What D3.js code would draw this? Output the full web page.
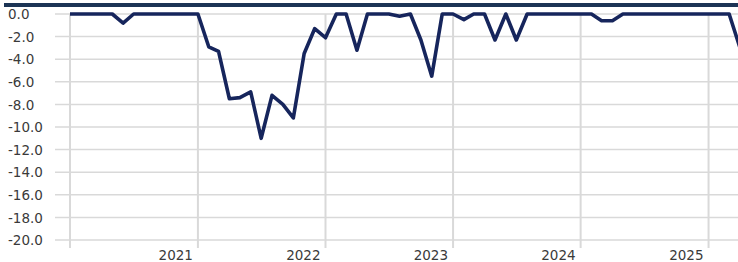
<!DOCTYPE html>
<html>
<head>
<meta charset="utf-8">
<script src="https://cdn.jsdelivr.net/npm/d3@7"></script>
<style>
    body { margin: 0; background: #fff; }
    text { font-family: "DejaVu Sans", sans-serif; fill: #3a3a3a; }
</style>
</head>
<body>
<div id="plot"></div>
<script>
'use strict';

// monthly values, Jan 2020 .. Apr 2025
const values = [
    0, 0, 0, 0, 0, -0.8, 0, 0, 0, 0, 0, 0,
    0, -2.9, -3.3, -7.5, -7.4, -6.9, -11.0, -7.2, -8.0, -9.2, -3.5, -1.3,
    -2.1, 0, 0, -3.2, 0, 0, 0, -0.2, 0, -2.3, -5.5, 0,
    0, -0.5, 0, 0, -2.3, 0, -2.3, 0, 0, 0, 0, 0,
    0, 0, -0.6, -0.6, 0, 0, 0, 0, 0, 0, 0, 0,
    0, 0, 0, -3.0
];
const months = values.map((v, i) => new Date(2020, i, 1));
const yTicks = [0, -2, -4, -6, -8, -10, -12, -14, -16, -18, -20];
const yearLines = [2020, 2021, 2022, 2023, 2024, 2025];
const yearLabels = ['2021', '2022', '2023', '2024', '2025'];

const svgWidth = 738,
    svgHeight = 262,
    gridLeft = 55,
    lineColor = '#16255c',
    gridColor = '#d9d9d9';

let data = months.map((d, i) => ({ date: d, value: values[i] }));

let svg = d3.select('#plot').append('svg')
    .attr('width', svgWidth)
    .attr('height', svgHeight);

let xScale = d3.scaleTime()
    .domain([new Date(2020, 0, 1), new Date(2025, 3, 1)])
    .range([70, 740]);

let yScale = d3.scaleLinear()
    .domain([-20, 0])
    .range([240, 14]);

// top banner
svg.append('rect')
    .attr('x', 4).attr('y', 3)
    .attr('width', svgWidth - 4).attr('height', 4)
    .attr('fill', '#1c3455');

// horizontal grid + y labels
let yAxis = svg.append('g').attr('class', 'y-axis');
yAxis.selectAll('line')
    .data(yTicks).enter().append('line')
    .attr('x1', gridLeft).attr('x2', svgWidth)
    .attr('y1', d => yScale(d)).attr('y2', d => yScale(d))
    .attr('stroke', gridColor)
    .attr('stroke-width', 1.5);
yAxis.selectAll('text')
    .data(yTicks).enter().append('text')
    .attr('x', 8)
    .attr('y', d => yScale(d))
    .attr('dy', '0.38em')
    .style('font-size', '13.5px')
    .text(d => d3.format('.1f')(d).replace('−', '-'));

// vertical year lines
let xAxis = svg.append('g').attr('class', 'x-axis');
xAxis.selectAll('line')
    .data(yearLines).enter().append('line')
    .attr('x1', d => xScale(new Date(d, 0, 1)))
    .attr('x2', d => xScale(new Date(d, 0, 1)))
    .attr('y1', yScale(0)).attr('y2', 248)
    .attr('stroke', gridColor)
    .attr('stroke-width', 2);
xAxis.selectAll('text')
    .data(yearLabels).enter().append('text')
    .attr('x', d => xScale(new Date(+d, 0, 1)) - 5)
    .attr('y', 260)
    .attr('text-anchor', 'end')
    .style('font-size', '13.5px')
    .text(d => d);

// series
let line = d3.line()
    .x(d => xScale(d.date))
    .y(d => yScale(d.value));

svg.append('path')
    .datum(data)
    .attr('d', line)
    .attr('fill', 'none')
    .attr('stroke', lineColor)
    .attr('stroke-width', 3.6)
    .attr('stroke-linejoin', 'round');
</script>
</body>
</html>
